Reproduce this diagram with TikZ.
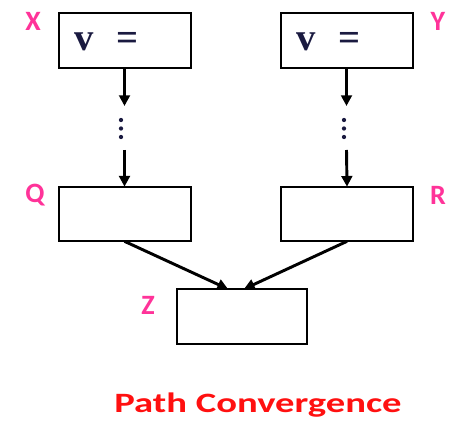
\documentclass[tikz,border=0pt]{standalone}
\usepackage{fontspec}
\setmainfont{Carlito}
\newfontfamily\codefont{Liberation Serif}
\usetikzlibrary{arrows.meta}
\definecolor{lbl}{HTML}{FF3399}
\definecolor{ttl}{HTML}{FF1010}
\definecolor{code}{HTML}{1A1A40}
\begin{document}
\begin{tikzpicture}[x=0.75pt,y=-0.75pt,
  blk/.style={draw,line width=1.5pt,minimum width=99pt,minimum height=41pt,inner sep=0pt,outer sep=0pt},
  zblk/.style={blk,minimum width=97pt},
  tag/.style={text=lbl,font=\fontsize{21}{24}\selectfont\bfseries,inner sep=0pt},
  conn/.style={line width=2.2pt,-{Triangle[length=8pt,width=8pt]}},
  code/.style={text=code,font=\codefont\bfseries\fontsize{29}{32}\selectfont,anchor=west,inner sep=0pt},
  dts/.style={inner sep=0pt,minimum width=4pt,minimum height=18pt},
  dot/.style={fill=code}]
\useasboundingbox (0,0) rectangle (452,423);
\node[blk] (X) at (124.5,40.5) {};
\node[blk] (Y) at (346.5,40.5) {};
\node[blk] (Q) at (124.5,214) {};
\node[blk] (R) at (347,214) {};
\node[zblk] (Z) at (242,316.5) {};
\node[code] (xv) at (74,42) {v\hspace{17pt}=};
\node[code] (yv) at (296,42) {v\hspace{17pt}=};
\node[dts] (d1) at (121,128.5) {};
\node[dts] (d2) at (344,128.5) {};
\foreach \d in {d1,d2}{
  \fill[dot] (\d.center) ++(0,-8.5) circle (1.6pt);
  \fill[dot] (\d.center) circle (1.6pt);
  \fill[dot] (\d.center) ++(0,8.5) circle (1.6pt);
}
\coordinate (d1t) at (124.5,106);
\coordinate (d1b) at (124.5,150);
\coordinate (d2t) at (346.5,106);
\coordinate (d2b) at (346.5,150);
\draw[conn] (X.south) -- (d1t);
\draw[conn] (d1b) -- (Q.north);
\draw[conn] (Y.south) -- (d2t);
\draw[conn] (d2b) -- (R.north);
\coordinate (zl) at (228,289);
\coordinate (zr) at (244,289);
\draw[conn] (Q.south) -- (zl);
\draw[conn] (R.south) -- (zr);
\node[tag] (lx) at (33,21) {X};
\node[tag] (ly) at (438,21) {Y};
\node[tag] (lq) at (35,195) {Q};
\node[tag] (lr) at (438,195) {R};
\node[tag] (lz) at (148,305) {Z};
\node[text=ttl,font=\fontsize{21}{24}\selectfont\bfseries,inner sep=0pt] (title) at (258,405) {\scalebox{1.38}[1]{Path Convergence}};
\end{tikzpicture}
\end{document}
